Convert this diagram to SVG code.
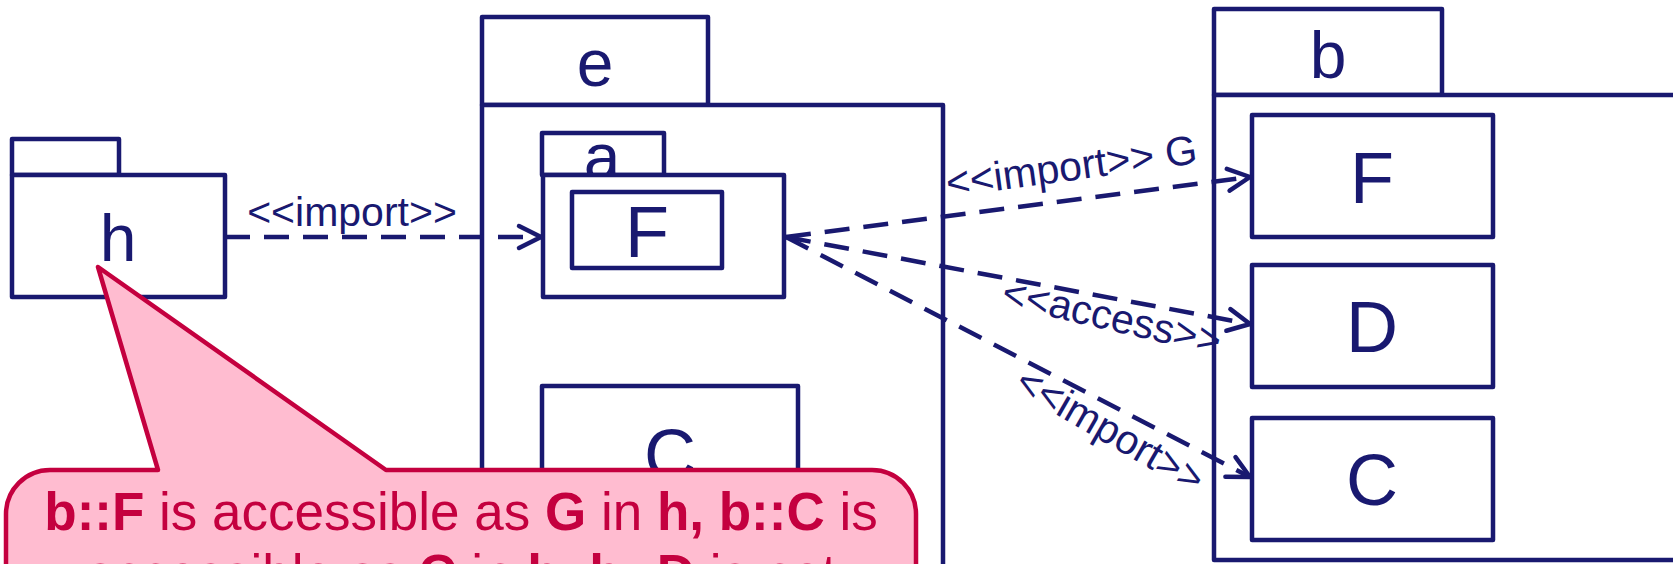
<svg xmlns="http://www.w3.org/2000/svg" width="1673" height="564" viewBox="0 0 1673 564">
<defs>
<style>
.pk{fill:#fff;stroke:#191970;stroke-width:4.5;stroke-linejoin:round}
.nm{font-family:"Liberation Sans",Arial,sans-serif;fill:#191970;text-anchor:middle}
.pkn{font-size:66px}
.cln{font-size:72px}
.lbl{font-size:41px}
.dep{fill:none;stroke:#191970;stroke-width:4.5;stroke-dasharray:25 14;marker-end:url(#open)}
.note{fill:#FFBCD0;stroke:#C4003F;stroke-width:4.5;stroke-linejoin:round}
.nt{font-family:"Liberation Sans",Arial,sans-serif;font-size:53px;fill:#C4003F;text-anchor:middle}
.b{font-weight:bold}
</style>
<marker id="open" markerUnits="userSpaceOnUse" markerWidth="32" markerHeight="32" viewBox="-26 -16 32 32" refX="0" refY="0" orient="auto">
<path d="M-22,-11 L0,0 L-22,11" fill="none" stroke="#191970" stroke-width="4.5" stroke-linecap="round" stroke-linejoin="round"/>
</marker>
</defs>
<rect width="1673" height="564" fill="#fff"/>

<g id="pkg-h">
<rect class="pk" x="12" y="139" width="107" height="36"/>
<rect class="pk" x="12" y="175" width="213" height="122"/>
<text class="nm pkn" x="118" y="261">h</text>
</g>

<g id="pkg-e">
<rect class="pk" x="482" y="17" width="226" height="88"/>
<text class="nm pkn" x="595" y="86">e</text>
<rect class="pk" x="482" y="105" width="461" height="520"/>
</g>

<g id="pkg-a">
<rect class="pk" x="542" y="133" width="122" height="42"/>
<text class="nm pkn" x="602" y="180">a</text>
<rect class="pk" x="543" y="175" width="241" height="122"/>
</g>

<g id="a-F">
<rect class="pk" x="572" y="192" width="150" height="76"/>
<text class="nm cln" x="647" y="257">F</text>
</g>

<g id="e-C">
<rect class="pk" x="542" y="386" width="256" height="150"/>
<text class="nm cln" x="670" y="480">C</text>
</g>

<g id="pkg-b">
<rect class="pk" x="1214" y="9" width="228" height="86"/>
<text class="nm pkn" x="1328" y="78">b</text>
<rect class="pk" x="1214" y="95" width="500" height="465"/>
</g>

<g id="b-F">
<rect class="pk" x="1252" y="115" width="241" height="122"/>
<text class="nm cln" x="1372" y="203">F</text>
</g>
<g id="b-D">
<rect class="pk" x="1252" y="265" width="241" height="122"/>
<text class="nm cln" x="1372" y="352">D</text>
</g>
<g id="b-C">
<rect class="pk" x="1252" y="418" width="241" height="122"/>
<text class="nm cln" x="1372" y="505">C</text>
</g>

<g id="connectors">
<path class="dep" d="M225,237 L541,237"/>
<text class="nm lbl" x="352" y="226">&lt;&lt;import&gt;&gt;</text>
<path class="dep" d="M786,237 L1250,177"/>
<path class="dep" d="M786,237 L1250,324"/>
<path class="dep" d="M786,237 L1250,477"/>
<g transform="translate(1076,200) rotate(-7.8)"><text class="nm lbl" x="0" y="-20">&lt;&lt;import&gt;&gt; G</text></g>
<g transform="translate(1116,299) rotate(13)"><text class="nm lbl" x="0" y="32">&lt;&lt;access&gt;&gt;</text></g>
<g transform="translate(1122,410) rotate(30)"><text class="nm lbl" x="0" y="37">&lt;&lt;import&gt;&gt;</text></g>
</g>

<g id="note">
<path class="note" d="M50,470 L158,470 L98,267 L386,470 L872,470 A44,44 0 0 1 916,514 L916,620 L6,620 L6,514 A44,44 0 0 1 50,470 Z"/>
<text class="nt" x="461" y="530"><tspan class="b">b::F</tspan> is accessible as <tspan class="b">G</tspan> in <tspan class="b">h,</tspan> <tspan class="b">b::C</tspan> is</text>
<text class="nt" x="461" y="592">accessible as <tspan class="b">C</tspan> in <tspan class="b">h,</tspan> <tspan class="b">b::D</tspan> is not</text>
</g>
</svg>
